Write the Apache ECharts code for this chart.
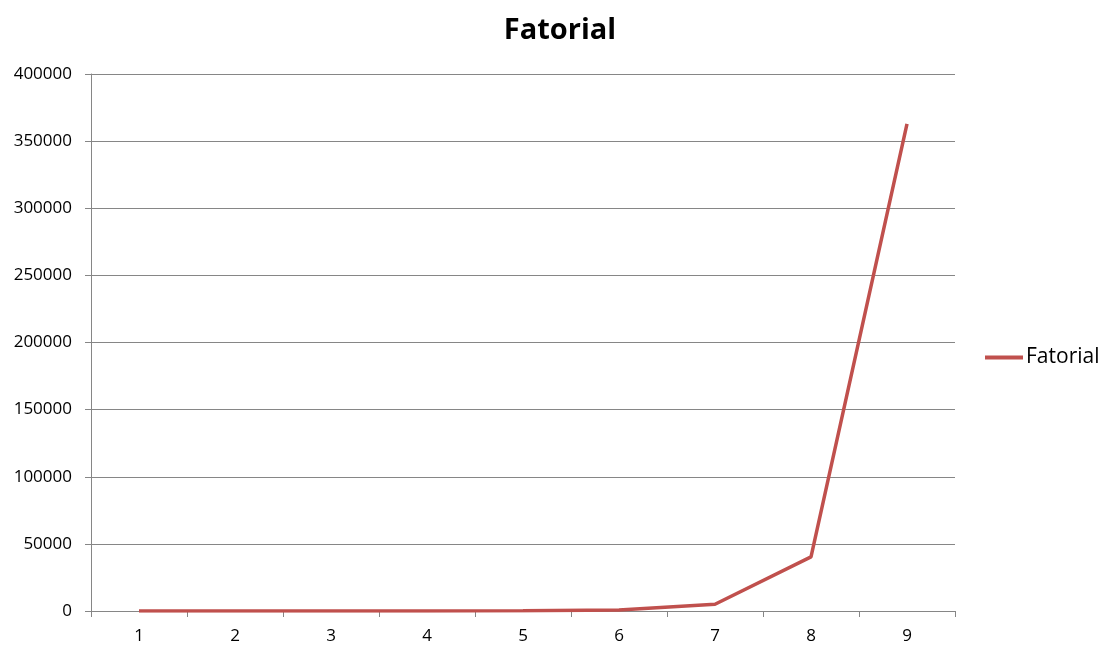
<!DOCTYPE html>
<html>
<head>
<meta charset="utf-8">
<script src="https://cdn.jsdelivr.net/npm/echarts@6/dist/echarts.min.js"></script>
<style>
  html, body { margin: 0; padding: 0; background: #fff; }
  #chart { width: 1107px; height: 650px; }
</style>
</head>
<body>
<div id="chart"></div>
<script>
// dados
const categorias = ["1", "2", "3", "4", "5", "6", "7", "8", "9"];
const fatorial = [1, 2, 6, 24, 120, 720, 5040, 40320, 362880];
const nomeSerie = "Fatorial";

const fonte = "'Open Sans', 'Liberation Sans', sans-serif";
const chart = echarts.init(document.getElementById("chart"));

chart.setOption({
    animation: false,
    // titulo
    title: {
        text: "Fatorial",
        left: 555,
        textAlign: "center",
        top: 11,
        textStyle: { fontFamily: fonte, fontSize: 29, fontWeight: "bold", color: "#000" }
    },
    legend: {
        data: [nomeSerie],
        orient: "vertical",
        left: 980,
        top: 342,
        icon: "rect",
        itemWidth: 38,
        itemHeight: 4,
        textStyle: { fontFamily: fonte, fontSize: 21, color: "#000", padding: [0, 0, 0, -2] }
    },
    grid: { left: 91, right: 152, top: 74, bottom: 39, containLabel: false },
    xAxis: {
        type: "category",
        data: categorias,
        boundaryGap: true,
        axisLine: { lineStyle: { color: "#868686", width: 1 } },
        axisTick: { show: true, length: 6, lineStyle: { color: "#868686" } },
        axisLabel: { fontFamily: fonte, fontSize: 17, color: "#000", margin: 17 }
    },
    yAxis: {
        type: "value",
        min: 0,
        max: 400000,
        interval: 50000,
        axisLine: { show: true, lineStyle: { color: "#868686", width: 1 } },
        axisTick: { show: true, length: 6, lineStyle: { color: "#868686" } },
        axisLabel: {
            fontFamily: fonte, fontSize: 17, color: "#000", margin: 19,
            formatter: v => String(v)
        },
        splitLine: { lineStyle: { color: "#868686", width: 1 } }
    },
    series: [{
        name: nomeSerie,
        type: "line",
        data: fatorial,
        symbol: "none",
        itemStyle: { color: "#c0504d" },
        lineStyle: { color: "#c0504d", width: 3.5 }
    }]
});
</script>
</body>
</html>
